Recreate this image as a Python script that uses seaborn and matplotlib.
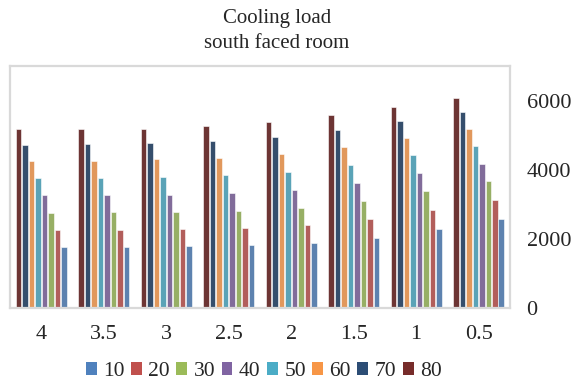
import matplotlib
matplotlib.use("Agg")
import matplotlib.pyplot as plt
import seaborn as sns
import pandas as pd
from matplotlib.patches import Patch

categories = ["4", "3.5", "3", "2.5", "2", "1.5", "1", "0.5"]
series = ["10", "20", "30", "40", "50", "60", "70", "80"]
v10 = [1780, 1780, 1790, 1820, 1875, 2020, 2285, 2575]
v20 = [2275, 2275, 2285, 2315, 2395, 2570, 2850, 3130]
v30 = [2760, 2770, 2780, 2820, 2905, 3110, 3385, 3665]
v40 = [3265, 3265, 3275, 3325, 3425, 3625, 3910, 4175]
v50 = [3765, 3770, 3800, 3850, 3945, 4150, 4425, 4700]
v60 = [4260, 4270, 4300, 4355, 4465, 4670, 4930, 5195]
v70 = [4730, 4735, 4765, 4825, 4940, 5145, 5405, 5670]
v80 = [5175, 5175, 5195, 5260, 5370, 5575, 5825, 6080]
colors = ["#4F81BD", "#C0504D", "#9BBB59", "#8064A2", "#4BACC6", "#F79646", "#2C4D75", "#772C2A"]

values = [v10, v20, v30, v40, v50, v60, v70, v80]
rows = []
for s, vals in zip(series, values):
    for c, v in zip(categories, vals):
        rows.append({"cat": c, "series": s, "load": v})
df = pd.DataFrame(rows)

sns.set_style("white")
plt.rcParams["font.family"] = ["Liberation Serif", "DejaVu Serif"]

fig = plt.figure(figsize=(5.71, 3.80), dpi=100)
ax = fig.add_axes([0.0175, 0.189, 0.8755, 0.637])
palette = dict(zip(series, colors))
sns.barplot(data=df, x="cat", y="load", hue="series", order=categories,
            hue_order=series[::-1], palette=palette, width=0.83, gap=0.12,
            edgecolor="white", linewidth=0.4, ax=ax, legend=False)
ax.set_ylim(0, 7000)
ax.set_xlim(-0.5, len(categories) - 0.5)
ax.set_yticks([0, 2000, 4000, 6000])
ax.yaxis.tick_right()
ax.tick_params(axis="y", length=0, pad=12, labelsize=16)
ax.tick_params(axis="x", length=0, pad=12, labelsize=16)
ax.set_xlabel("")
ax.set_ylabel("")
for sp in ax.spines.values():
    sp.set_visible(True)
    sp.set_color("#D9D9D9")
    sp.set_linewidth(1.6)

fig.text(0.485, 0.952, "Cooling load", ha="center", va="center", fontsize=15)
fig.text(0.485, 0.886, "south faced room", ha="center", va="center", fontsize=15)

handles = [Patch(facecolor=palette[s], edgecolor="none") for s in series]
fig.legend(handles, series, loc="center", bbox_to_anchor=(0.462, 0.022), ncol=8,
           frameon=False, fontsize=15.5, handlelength=0.5, handleheight=0.5,
           handletextpad=0.3, columnspacing=0.3, borderaxespad=0)

fig.savefig("out.png", dpi=100)
